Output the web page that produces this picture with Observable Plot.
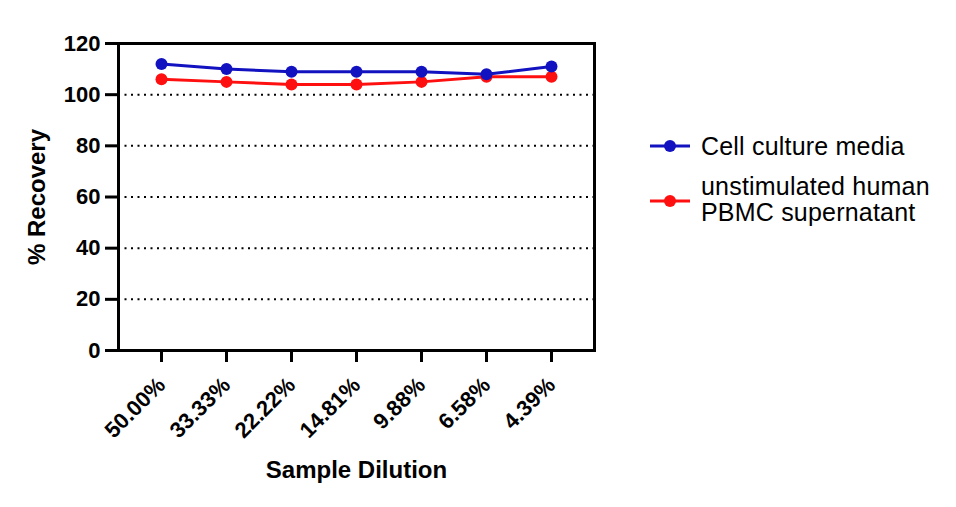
<!DOCTYPE html>
<html><head>
<meta charset="utf-8">
<script src="https://cdn.jsdelivr.net/npm/d3@7"></script>
<script src="https://cdn.jsdelivr.net/npm/@observablehq/plot@0.6"></script>
<style>
body{margin:0;background:#fff;font-family:"Liberation Sans",Arial,sans-serif}
#wrap{position:relative;width:956px;height:507px;overflow:hidden}
.sw{position:absolute;left:648px}
.lt{position:absolute;left:701px;font-size:25px;line-height:26px;color:#000;white-space:nowrap;letter-spacing:0.2px}
</style></head><body><div id="wrap"></div>
<script>
const dilutions = ["50.00%","33.33%","22.22%","14.81%","9.88%","6.58%","4.39%"];
const cellCulture = [112,110,109,109,109,108,111];
const pbmc = [106,105,104,104,105,107,107];
const seriesNames = ["Cell culture media","unstimulated human PBMC supernatant"];
const legendLines = [["Cell culture media"],["unstimulated human","PBMC supernatant"]];
const seriesColors = ["#1212c0","#ff1010"];
const yTicks = [0,20,40,60,80,100,120];
const gridTicks = [20,40,60,80,100];

const data = [
  ...dilutions.map((d,i)=>({dilution:d,value:pbmc[i],series:seriesNames[1]})),
  ...dilutions.map((d,i)=>({dilution:d,value:cellCulture[i],series:seriesNames[0]}))
];

const chart = Plot.plot({
  width:956, height:507,
  marginLeft:118, marginRight:362, marginTop:43, marginBottom:157,
  style:{fontFamily:"'Liberation Sans', Arial, sans-serif", fontSize:"22px", fontWeight:"bold", color:"#000", background:"#fff"},
  x:{type:"point", domain:dilutions, padding:0.66, label:null},
  y:{domain:[0,120], label:null},
  color:{domain:seriesNames, range:seriesColors},
  marks:[
    Plot.ruleY(gridTicks,{stroke:"#000", strokeWidth:2, strokeDasharray:"2,4.5"}),
    Plot.line(data,{x:"dilution", y:"value", z:"series", stroke:"series", strokeWidth:3}),
    Plot.dot(data,{x:"dilution", y:"value", fill:"series", r:6}),
    Plot.frame({stroke:"#000", strokeWidth:3}),
    Plot.axisY({ticks:yTicks, tickSize:13, tickPadding:5, strokeWidth:3, fontSize:22, fontWeight:"bold", label:null}),
    Plot.axisX({tickSize:12, tickRotate:-45, tickPadding:19, strokeWidth:3, fontSize:22, fontWeight:"bold", label:null}),
    Plot.text(["% Recovery"],{frameAnchor:"left", textAnchor:"middle", lineAnchor:"middle", dx:-81, rotate:-90, fontSize:24, fontWeight:"bold", fill:"#000"}),
    Plot.text(["Sample Dilution"],{frameAnchor:"bottom", lineAnchor:"middle", dy:120, fontSize:24, fontWeight:"bold", fill:"#000"})
  ]
});
const wrap = document.getElementById("wrap");
wrap.appendChild(chart);

const swatchY = [146, 201];
const textTop = [133, 173];
seriesNames.forEach((name,i)=>{
  const c = seriesColors[i];
  const sw = document.createElement("div");
  sw.className = "sw";
  sw.style.top = (swatchY[i]-8) + "px";
  sw.innerHTML = `<svg width="44" height="16" style="display:block"><line x1="2" x2="42" y1="8" y2="8" stroke="${c}" stroke-width="3"/><circle cx="22" cy="8" r="6" fill="${c}"/></svg>`;
  wrap.appendChild(sw);
  const t = document.createElement("div");
  t.className = "lt";
  t.style.top = textTop[i] + "px";
  t.innerHTML = legendLines[i].join("<br>");
  wrap.appendChild(t);
});
</script>
</body></html>
